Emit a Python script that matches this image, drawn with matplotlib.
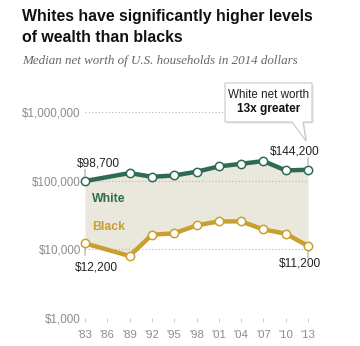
import numpy as np
import matplotlib.pyplot as plt
from matplotlib.patches import Polygon

# Median net worth, 2014 dollars
years = [1983, 1989, 1992, 1995, 1998, 2001, 2004, 2007, 2010, 2013]
white = [98700, 129000, 114000, 119000, 135000, 161000, 176000, 193000, 141000, 144200]
black = [12200, 8000, 16300, 17100, 22300, 25500, 25500, 19500, 16900, 11200]
tick_years = [1983, 1986, 1989, 1992, 1995, 1998, 2001, 2004, 2007, 2010, 2013]
y_ticks = [1000, 10000, 100000, 1000000]

GREEN = '#2e6b55'
GOLD = '#c9a02f'
FILL = '#eae7dc'
GREY = '#8c8c8c'

W, H = 360, 346
fig = plt.figure(figsize=(W / 100, H / 100), dpi=100)
fig.patch.set_facecolor('white')


def fx(px):
    return px / W


def fy(py):
    return 1 - py / H


ax = fig.add_axes([fx(85), fy(318), fx(308) - fx(85), fy(112) - fy(318)])
ax.set_yscale('log')
ax.set_xlim(1983, 2013)
ax.set_ylim(1000, 1000000)
for s in ax.spines.values():
    s.set_visible(False)

# dotted gridlines (none at the bottom level)
for v in y_ticks[1:]:
    ax.axhline(v, color='#b5b5b5', lw=0.8, ls=(0, (1, 2)), zorder=1)

ax.fill_between(years, black, white, color=FILL, lw=0, zorder=0)
ax.plot(years, white, color=GREEN, lw=3.2, marker='o', ms=6, mfc='white',
        mec=GREEN, mew=1.1, clip_on=False, zorder=3, solid_capstyle='round')
ax.plot(years, black, color=GOLD, lw=3.2, marker='o', ms=6, mfc='white',
        mec=GOLD, mew=1.1, clip_on=False, zorder=3, solid_capstyle='round')

ax.set_yticks(y_ticks)
ax.set_yticklabels(['${:,}'.format(v) for v in y_ticks])
ax.yaxis.set_minor_locator(plt.NullLocator())
ax.tick_params(axis='y', length=0, pad=3, labelsize=8.4, labelcolor=GREY)
ax.set_xticks(tick_years)
ax.set_xticklabels(["'" + str(y)[2:] for y in tick_years])
ax.tick_params(axis='x', length=3, width=0.6, color='#c4c4c4', pad=6,
               labelsize=8.2, labelcolor=GREY)
for lab in ax.get_xticklabels() + ax.get_yticklabels():
    lab.set_family('Liberation Sans')

lab_font = dict(family='Liberation Sans', fontsize=8.6, color='#222222')


def end_label(x, v, dy, ha, dx):
    sign = 1 if dy > 0 else -1
    ax.annotate('', xy=(x, v), xytext=(0, sign * 8.5), textcoords='offset points',
                arrowprops=dict(arrowstyle='-', color='#999999', lw=0.7,
                                shrinkA=0, shrinkB=3.5))
    ax.annotate('${:,}'.format(v), xy=(x, v), xytext=(dx, dy),
                textcoords='offset points', ha=ha, va='center', **lab_font)


end_label(years[0], white[0], 12.5, 'left', -6)
end_label(years[0], black[0], -17, 'left', -7.5)
end_label(years[-1], white[-1], 13.5, 'right', 8)
end_label(years[-1], black[-1], -12.7, 'right', 9)

ax.text(1983.9, 10 ** 4.74, 'White', color=GREEN, fontsize=8.8,
        fontweight='bold', family='Liberation Sans', va='center', ha='left')
ax.text(1983.9, 10 ** 4.32, 'Black', color=GOLD, fontsize=8.8,
        fontweight='bold', family='Liberation Sans', va='center', ha='left')

# callout box with a tail
box = [(225, 83), (312, 83), (312, 122), (303, 122), (306, 141),
       (292, 122), (225, 122)]
shadow = Polygon([(fx(x + 1.5), fy(y + 1.5)) for x, y in box], closed=True,
                 transform=fig.transFigure, facecolor='#e4e4e4', edgecolor='none',
                 zorder=4)
callout = Polygon([(fx(x), fy(y)) for x, y in box], closed=True,
                  transform=fig.transFigure, facecolor='white', edgecolor='#c8c8c8',
                  lw=0.8, zorder=5)
fig.add_artist(shadow)
fig.add_artist(callout)
fig.text(fx(268.5), fy(95), 'White net worth', ha='center', va='center',
         fontsize=8.4, family='Liberation Sans', color='#222222', zorder=6)
fig.text(fx(268.5), fy(109), '13x greater', ha='center', va='center',
         fontsize=8.6, family='Liberation Sans', fontweight='bold', color='#111111',
         zorder=6)

fig.text(fx(22), fy(16), 'Whites have significantly higher levels', ha='left',
         va='center', fontsize=11.45, fontweight='bold', family='Liberation Sans',
         color='#111111')
fig.text(fx(22), fy(38), 'of wealth than blacks', ha='left', va='center',
         fontsize=11.45, fontweight='bold', family='Liberation Sans', color='#111111')
fig.text(fx(22), fy(61), 'Median net worth of U.S. households in 2014 dollars',
         ha='left', va='center', fontsize=9.4, style='italic',
         family='Liberation Serif', color='#666666')

fig.savefig('out.png', dpi=100)
